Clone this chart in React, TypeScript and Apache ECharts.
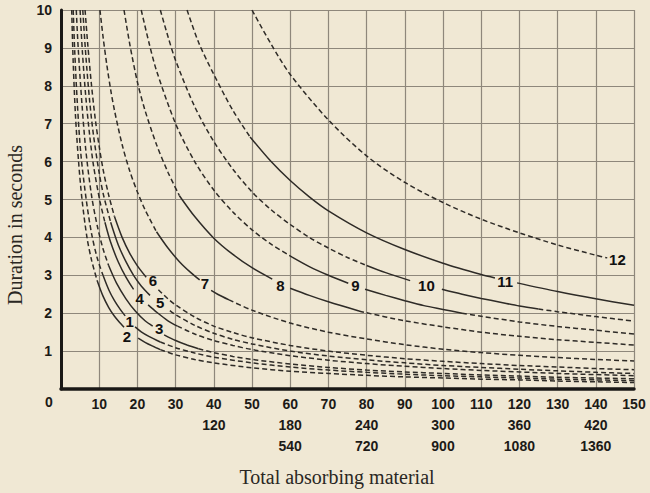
import React, { useEffect, useRef } from "react";
import * as echarts from "echarts";

type Seg = { style: "solid" | "dashed"; pts: number[][] };

const curve1: Seg[] = [
  { style: "dashed", pts: [[3.2, 10], [3.6, 8.9], [4.3, 7.5], [5.2, 6.2], [6.6, 5.0], [8, 4.1], [9.5, 3.45], [11, 3.0]] },
  { style: "solid", pts: [[11, 3.0], [12.5, 2.62], [14, 2.33], [15.5, 2.1], [16.8, 1.93]] },
  { style: "solid", pts: [[19.4, 1.64], [21, 1.51], [23, 1.39], [26, 1.24]] },
  { style: "dashed", pts: [[26, 1.24], [30, 1.09], [35, 0.95], [40, 0.84], [50, 0.69], [60, 0.58], [70, 0.5], [80, 0.44], [90, 0.39], [100, 0.35], [110, 0.32], [120, 0.29], [130, 0.26], [140, 0.24], [150, 0.22]] },
];
const curve2: Seg[] = [
  { style: "dashed", pts: [[2.8, 10], [3.2, 8.6], [3.8, 7.2], [4.6, 6.0], [5.5, 5.0], [6.8, 4.0], [8, 3.4], [9.5, 2.85]] },
  { style: "solid", pts: [[9.5, 2.85], [11, 2.45], [12.5, 2.15], [14, 1.92], [15.5, 1.74], [16.5, 1.63]] },
  { style: "solid", pts: [[20.2, 1.34], [22, 1.23], [24, 1.13], [26, 1.04]] },
  { style: "dashed", pts: [[26, 1.04], [30, 0.9], [35, 0.78], [40, 0.69], [50, 0.56], [60, 0.47], [70, 0.41], [80, 0.36], [90, 0.32], [100, 0.29], [110, 0.26], [120, 0.24], [130, 0.21], [140, 0.19], [150, 0.17]] },
];
const curve3: Seg[] = [
  { style: "dashed", pts: [[4.0, 10], [4.5, 9.0], [5.5, 7.5], [6.5, 6.3], [8, 5.1], [9.5, 4.3], [11, 3.7], [12.5, 3.25]] },
  { style: "solid", pts: [[12.5, 3.25], [14.5, 2.8], [17, 2.38], [19.5, 2.05], [22, 1.8], [24, 1.66]] },
  { style: "solid", pts: [[27, 1.43], [30, 1.28], [33, 1.16], [36, 1.06]] },
  { style: "dashed", pts: [[36, 1.06], [40, 0.96], [45, 0.86], [50, 0.78], [60, 0.66], [70, 0.57], [80, 0.5], [90, 0.45], [100, 0.41], [110, 0.37], [120, 0.34], [130, 0.31], [140, 0.29], [150, 0.27]] },
];
const curve4: Seg[] = [
  { style: "dashed", pts: [[5.0, 10], [5.6, 8.9], [6.5, 7.7], [7.5, 6.7], [8.5, 5.9], [10.2, 4.95], [11.5, 4.4]] },
  { style: "solid", pts: [[11.5, 4.4], [13, 3.87], [15, 3.35], [17, 2.95], [19, 2.63]] },
  { style: "solid", pts: [[22.8, 2.22], [25, 2.03], [28, 1.8], [30.5, 1.66]] },
  { style: "dashed", pts: [[30.5, 1.66], [35, 1.45], [40, 1.28], [45, 1.15], [50, 1.04], [60, 0.88], [70, 0.76], [80, 0.67], [90, 0.6], [100, 0.54], [110, 0.49], [120, 0.45], [130, 0.41], [140, 0.38], [150, 0.35]] },
];
const curve5: Seg[] = [
  { style: "dashed", pts: [[5.7, 10], [6.5, 8.8], [7.5, 7.6], [8.5, 6.7], [10, 5.7], [11.1, 5.13], [13, 4.4]] },
  { style: "solid", pts: [[13, 4.4], [15, 3.8], [17, 3.36], [19, 3.0], [21, 2.72], [23.3, 2.47]] },
  { style: "dashed", pts: [[28.5, 2.07], [30, 1.96], [35, 1.68], [40, 1.47], [45, 1.31], [50, 1.19], [60, 1.0], [70, 0.87], [80, 0.77], [90, 0.69], [100, 0.62], [110, 0.57], [120, 0.52], [130, 0.48], [140, 0.44], [150, 0.41]] },
];
const curve6: Seg[] = [
  { style: "dashed", pts: [[6.3, 10], [7, 9.1], [8, 8.0], [9, 7.1], [10, 6.4], [11, 5.8], [12.4, 5.15], [14, 4.55]] },
  { style: "solid", pts: [[14, 4.55], [16, 4.0], [18, 3.58], [20, 3.25], [22.3, 2.95]] },
  { style: "dashed", pts: [[25.5, 2.62], [28, 2.38], [30, 2.22], [35, 1.9], [40, 1.66], [45, 1.49], [50, 1.35], [60, 1.15], [70, 1.0], [80, 0.89], [90, 0.8], [100, 0.73], [110, 0.67], [120, 0.62], [130, 0.58], [140, 0.54], [150, 0.51]] },
];
const curve7: Seg[] = [
  { style: "dashed", pts: [[10.2, 10], [11, 9.3], [12, 8.55], [13, 7.9], [14, 7.35], [16, 6.45], [18, 5.75], [20, 5.2], [22, 4.73], [25, 4.15]] },
  { style: "solid", pts: [[25, 4.15], [28, 3.72], [31, 3.36], [34, 3.07], [36.3, 2.88]] },
  { style: "solid", pts: [[39.3, 2.6], [41, 2.5], [44, 2.35]] },
  { style: "dashed", pts: [[44, 2.35], [50, 2.08], [60, 1.74], [70, 1.5], [80, 1.32], [90, 1.17], [100, 1.05], [110, 0.96], [120, 0.89], [130, 0.83], [140, 0.78], [150, 0.74]] },
];
const curve8: Seg[] = [
  { style: "dashed", pts: [[16.5, 10], [18, 9.1], [20, 8.1], [22, 7.35], [25, 6.45], [28, 5.72], [31, 5.1]] },
  { style: "solid", pts: [[31, 5.1], [35, 4.55], [40, 3.98], [45, 3.55], [50, 3.2], [55.3, 2.9]] },
  { style: "solid", pts: [[60, 2.66], [65, 2.47], [70, 2.3], [78, 2.06]] },
  { style: "dashed", pts: [[78, 2.06], [80, 2.01], [90, 1.8], [100, 1.64], [110, 1.5], [120, 1.39], [130, 1.3], [140, 1.23], [150, 1.16]] },
];
const curve9: Seg[] = [
  { style: "dashed", pts: [[21, 10], [23, 9.15], [25, 8.4], [30, 7.0], [35, 6.0], [40, 5.25], [45, 4.67], [50, 4.2], [55, 3.82], [60.5, 3.48]] },
  { style: "solid", pts: [[60.5, 3.48], [65, 3.23], [70, 3.0], [75.2, 2.79]] },
  { style: "solid", pts: [[79.6, 2.63], [85, 2.47], [90, 2.33], [95, 2.2], [100, 2.1], [105, 2.0]] },
  { style: "dashed", pts: [[105, 2.0], [110, 1.92], [120, 1.77], [130, 1.65], [140, 1.55], [150, 1.45]] },
];
const curve10: Seg[] = [
  { style: "dashed", pts: [[26, 10], [28, 9.3], [30, 8.67], [35, 7.45], [40, 6.53], [45, 5.8], [50, 5.2], [55, 4.73], [60, 4.34], [65, 4.0], [70, 3.72], [75, 3.47], [80, 3.26]] },
  { style: "solid", pts: [[80, 3.26], [85, 3.07], [91.4, 2.86]] },
  { style: "solid", pts: [[99.7, 2.63], [105, 2.5], [110, 2.39], [115, 2.29], [120, 2.19], [125, 2.11]] },
  { style: "dashed", pts: [[125, 2.11], [130, 2.04], [140, 1.91], [150, 1.79]] },
];
const curve11: Seg[] = [
  { style: "dashed", pts: [[33, 10], [36, 9.15], [40, 8.3], [45, 7.35], [49.5, 6.65]] },
  { style: "solid", pts: [[49.5, 6.65], [55, 6.0], [60, 5.5], [65, 5.07], [70, 4.7], [80, 4.12], [90, 3.68], [100, 3.32], [110, 3.02], [113.6, 2.93]] },
  { style: "solid", pts: [[119.4, 2.8], [130, 2.57], [140, 2.38], [150, 2.21]] },
];
const curve12: Seg[] = [
  { style: "dashed", pts: [[50, 10], [55, 9.1], [60, 8.3], [70, 7.1], [80, 6.15], [90, 5.45], [100, 4.92], [110, 4.48], [120, 4.12], [130, 3.8], [140, 3.53], [143, 3.46]] },
];

const curves = [curve1, curve2, curve3, curve4, curve5, curve6, curve7, curve8, curve9, curve10, curve11, curve12];

const curveLabelText = ["1", "2", "3", "4", "5", "6", "7", "8", "9", "10", "11", "12"];
const curveLabelX = [18.1, 17.4, 25.8, 20.7, 26.1, 24.2, 37.8, 57.6, 77.2, 95.8, 116.4, 145.8];
const curveLabelY = [1.77, 1.38, 1.58, 2.38, 2.28, 2.84, 2.78, 2.72, 2.71, 2.72, 2.82, 3.4];

const row2Ticks = [40, 60, 80, 100, 120, 140];
const row2Labels = ["120", "180", "240", "300", "360", "420"];
const row3Ticks = [60, 80, 100, 120, 140];
const row3Labels = ["540", "720", "900", "1080", "1360"];

const xTitle = "Total absorbing material";
const yTitle = "Duration in seconds";

const BG = "#f0e8d4";
const GRID = "#8e877b";
const INK = "#2e2b27";
const TEXT = "#1c1a17";
const TICK_FONT = "Liberation Sans";

export default function App() {
  const ref = useRef<HTMLDivElement>(null);
  useEffect(() => {
    document.body.style.margin = "0";
    document.body.style.background = BG;
    const chart = echarts.init(ref.current!, undefined, { renderer: "svg" });
    const series: any[] = [];
    curves.forEach((segs) => {
      segs.forEach((s) => {
        series.push({
          type: "line",
          data: s.pts,
          showSymbol: false,
          smooth: 0.3,
          silent: true,
          lineStyle: {
            color: INK,
            width: 1.5,
            type: s.style === "solid" ? "solid" : [5, 3],
          },
          z: 3,
        });
      });
    });
    series.push({
      type: "scatter",
      data: curveLabelText.map((t, i) => [curveLabelX[i], curveLabelY[i], t]),
      symbol: "circle",
      symbolSize: 1,
      silent: true,
      itemStyle: { color: BG, opacity: 0 },
      label: {
        show: true,
        position: [0, 0],
        align: "center",
        verticalAlign: "middle",
        formatter: (p: any) => p.data[2],
        fontFamily: TICK_FONT,
        fontWeight: "bold",
        fontSize: 15,
        color: "#111",
        opacity: 1,
        textBorderWidth: 0,
      },
      z: 4,
    });
    chart.setOption({
      animation: false,
      backgroundColor: BG,
      grid: { left: 61, right: 16, top: 10, bottom: 104, containLabel: false },
      xAxis: {
        type: "value",
        min: 0,
        max: 150,
        interval: 10,
        axisLine: { show: true, onZero: false, lineStyle: { color: "#1a1816", width: 3.5 } },
        axisTick: { show: false },
        splitLine: { show: true, lineStyle: { color: GRID, width: 1.2 } },
        axisLabel: {
          margin: 4,
          fontFamily: TICK_FONT,
          fontWeight: "bold",
          fontSize: 14,
          lineHeight: 21,
          color: TEXT,
          formatter: (v: number) => {
            if (v === 0) return "";
            const lines = [String(v)];
            const i = row2Ticks.indexOf(v);
            if (i >= 0) lines.push(row2Labels[i]);
            const j = row3Ticks.indexOf(v);
            if (j >= 0) lines.push(row3Labels[j]);
            return lines.join("\n");
          },
        },
      },
      yAxis: {
        type: "value",
        min: 0,
        max: 10,
        interval: 1,
        axisLine: { show: true, onZero: false, lineStyle: { color: "#1a1816", width: 3 } },
        axisTick: { show: false },
        splitLine: { show: true, lineStyle: { color: GRID, width: 1.2 } },
        axisLabel: {
          margin: 9,
          fontFamily: TICK_FONT,
          fontWeight: "bold",
          fontSize: 14,
          color: TEXT,
          formatter: (v: number) => (v === 0 ? "" : String(v)),
        },
      },
      graphic: [
        {
          type: "text",
          x: 49,
          y: 402,
          style: { text: "0", font: `bold 14px ${TICK_FONT}`, fill: TEXT, textAlign: "center", textVerticalAlign: "middle" },
        },
        {
          type: "text",
          x: 337,
          y: 477,
          style: { text: xTitle, font: "20px 'Liberation Serif'", fill: "#2a2723", textAlign: "center", textVerticalAlign: "middle" },
        },
        {
          type: "text",
          x: 15,
          y: 225,
          rotation: Math.PI / 2,
          style: { text: yTitle, font: "20px 'Liberation Serif'", fill: "#2a2723", textAlign: "center", textVerticalAlign: "middle" },
        },
      ],
      series,
    });
    return () => chart.dispose();
  }, []);
  return <div ref={ref} style={{ width: 650, height: 493 }} />;
}
